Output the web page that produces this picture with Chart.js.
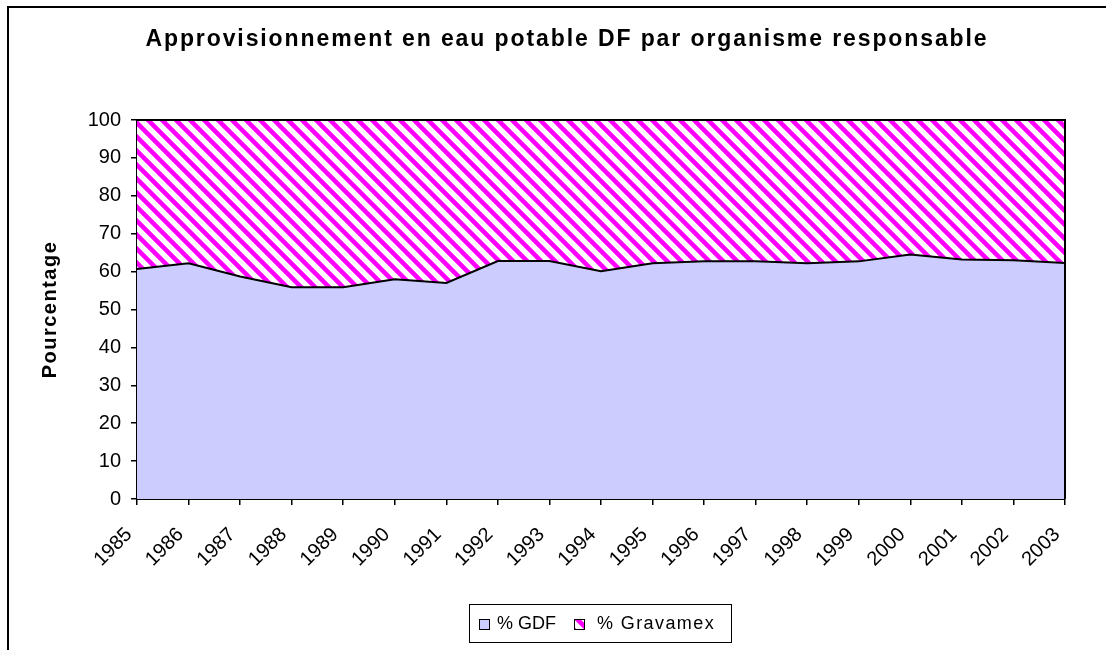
<!DOCTYPE html>
<html lang="fr">
<head>
<meta charset="utf-8">
<title>Approvisionnement en eau potable DF</title>
<script src="https://cdn.jsdelivr.net/npm/chart.js@4.4.1/dist/chart.umd.min.js"></script>
<style>
    html, body { margin: 0; padding: 0; background: #fff; }
    #wrap { width: 1106px; height: 650px; position: relative; }
</style>
</head>
<body>
<div id="wrap"><canvas id="chart" width="1106" height="650"></canvas></div>
<script>
// Données
const years = ['1985', '1986', '1987', '1988', '1989', '1990', '1991', '1992', '1993', '1994',
               '1995', '1996', '1997', '1998', '1999', '2000', '2001', '2002', '2003'];
const gdfValues = [60.7, 62.2, 58.7, 55.9, 55.9, 58.0, 57.0, 62.8, 62.8, 60.1,
                   62.2, 62.7, 62.7, 62.2, 62.7, 64.5, 63.2, 63.0, 62.3];
const gravamexValues = [39.3, 37.8, 41.3, 44.1, 44.1, 42.0, 43.0, 37.2, 37.2, 39.9,
                        37.8, 37.3, 37.3, 37.8, 37.3, 35.5, 36.8, 37.0, 37.7];
const yTicks = [0, 10, 20, 30, 40, 50, 60, 70, 80, 90, 100];

const titleText = 'Approvisionnement en eau potable DF par organisme responsable';
const yTitleText = 'Pourcentage';
const FONT = '"Liberation Sans", Arial, sans-serif';

// Motif hachuré magenta (diagonales descendantes)
function makeHatch() {
    const size = 14;
    const c = document.createElement('canvas');
    c.width = size;
    c.height = size;
    const g = c.getContext('2d');
    g.fillStyle = '#ffffff';
    g.fillRect(0, 0, size, size);
    g.strokeStyle = '#ff00ff';
    g.lineWidth = 4.5;
    g.beginPath();
    for (let k = -1; k <= 1; k++) {
        g.moveTo(k * size - 2, -2);
        g.lineTo(k * size + size + 2, size + 2);
    }
    g.stroke();
    return g.createPattern(c, 'repeat');
}

const hatch = makeHatch();
const gdfColor = '#ccccff';

// Décor : fond, cadre, titres, légende encadrée
const decorPlugin = {
    id: 'decor',
    beforeDraw(chart) {
        const ctx = chart.ctx;
        ctx.save();
        ctx.fillStyle = '#ffffff';
        ctx.fillRect(0, 0, chart.width, chart.height);
        ctx.fillStyle = '#000000';
        ctx.fillRect(7, 6, 2, chart.height);
        ctx.fillRect(7, 6, chart.width, 2);
        ctx.restore();
    },
    afterDatasetsDraw(chart) {
        const {ctx, chartArea} = chart;
        ctx.save();
        ctx.strokeStyle = '#000000';
        ctx.lineWidth = 2;
        ctx.beginPath();
        ctx.moveTo(chartArea.left, chartArea.top);
        ctx.lineTo(chartArea.right, chartArea.top);
        ctx.lineTo(chartArea.right, chartArea.bottom);
        ctx.stroke();
        ctx.restore();
    },
    afterDraw(chart) {
        const {ctx, chartArea} = chart;
        ctx.save();
        // Titre
        ctx.fillStyle = '#000000';
        ctx.font = 'bold 23px ' + FONT;
        ctx.letterSpacing = '1.9px';
        ctx.textAlign = 'center';
        ctx.textBaseline = 'alphabetic';
        ctx.fillText(titleText, 567, 46);

        // Titre de l'axe vertical
        ctx.save();
        ctx.font = 'bold 20px ' + FONT;
        ctx.letterSpacing = '1.5px';
        ctx.translate(50, (chartArea.top + chartArea.bottom) / 2);
        ctx.rotate(-Math.PI / 2);
        ctx.textBaseline = 'middle';
        ctx.fillText(yTitleText, 0, 0);
        ctx.restore();

        // Légende
        ctx.letterSpacing = '0px';
        ctx.strokeStyle = '#000000';
        ctx.lineWidth = 1;
        ctx.strokeRect(469.5, 604.5, 262, 38);
        const ds = chart.data.datasets;
        const items = [
            {x: 479, textX: 497, spacing: '0px', fill: ds[0].backgroundColor, label: ds[0].label},
            {x: 574, textX: 597, spacing: '1.4px', fill: ds[1].backgroundColor, label: ds[1].label}
        ];
        ctx.font = '18px ' + FONT;
        ctx.textAlign = 'left';
        items.forEach(it => {
            ctx.fillStyle = it.fill;
            ctx.fillRect(it.x, 619, 10, 10);
            ctx.strokeRect(it.x + 0.5, 619.5, 10, 10);
            ctx.fillStyle = '#000000';
            ctx.letterSpacing = it.spacing;
            ctx.fillText(it.label, it.textX, 629);
        });
        ctx.restore();
    }
};

const ctx = document.getElementById('chart').getContext('2d');
new Chart(ctx, {
    type: 'line',
    data: {
        labels: years,
        datasets: [
            {
                label: '% GDF',
                data: gdfValues,
                fill: 'origin',
                backgroundColor: gdfColor,
                borderColor: '#000000',
                borderWidth: 2,
                pointRadius: 0,
                tension: 0
            },
            {
                label: '% Gravamex',
                data: gravamexValues,
                fill: '-1',
                backgroundColor: hatch,
                borderColor: '#000000',
                borderWidth: 2,
                pointRadius: 0,
                tension: 0
            }
        ]
    },
    options: {
        responsive: false,
        animation: false,
        layout: {
            padding: {top: 120, right: 41, left: 0, bottom: 0}
        },
        plugins: {
            legend: {display: false},
            title: {display: false},
            tooltip: {enabled: false}
        },
        scales: {
            x: {
                offset: false,
                grid: {
                    display: true,
                    drawOnChartArea: false,
                    color: '#000000',
                    tickColor: '#000000',
                    tickLength: 6,
                    lineWidth: 1.5
                },
                border: {display: true, color: '#000000', width: 2},
                ticks: {
                    color: '#000000',
                    font: {family: FONT, size: 20},
                    minRotation: 45,
                    maxRotation: 45,
                    autoSkip: false,
                    padding: 18,
                    labelOffset: -8
                },
                afterFit: s => { s.height = 151; }
            },
            y: {
                stacked: true,
                min: 0,
                max: 100,
                afterBuildTicks: s => { s.ticks = yTicks.map(v => ({value: v})); },
                grid: {
                    display: true,
                    drawOnChartArea: false,
                    color: '#000000',
                    tickColor: '#000000',
                    tickLength: 6,
                    lineWidth: 1.5
                },
                border: {display: true, color: '#000000', width: 2},
                ticks: {
                    color: '#000000',
                    font: {family: FONT, size: 20},
                    padding: 10
                },
                afterFit: s => { s.width = 137; }
            }
        }
    },
    plugins: [decorPlugin]
});
</script>
</body>
</html>
